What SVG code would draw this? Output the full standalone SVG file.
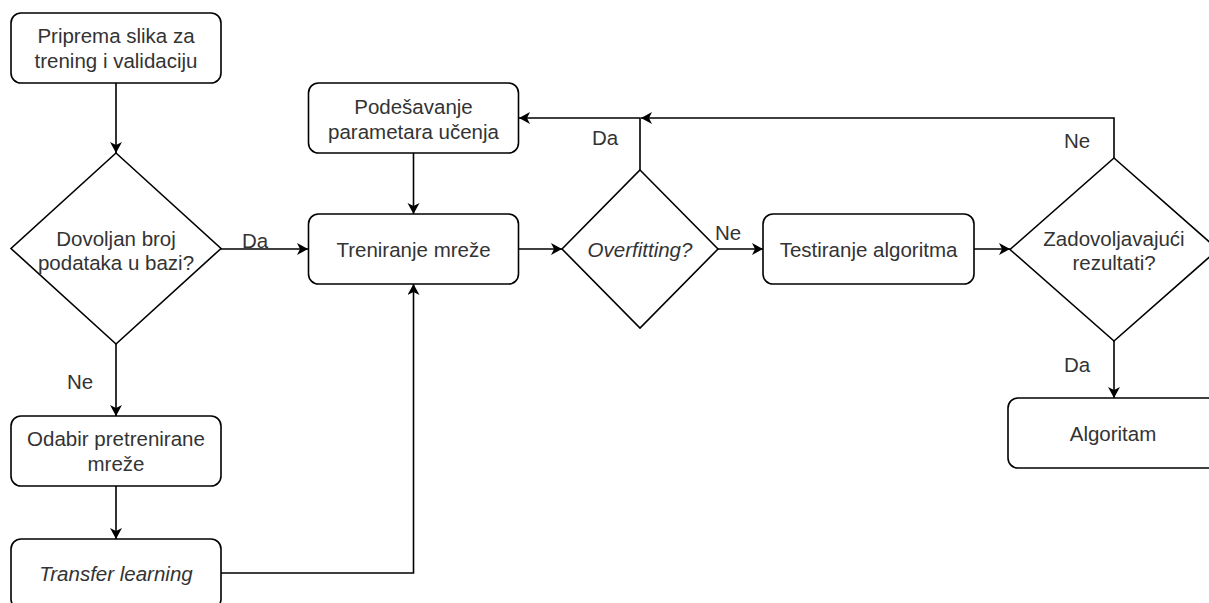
<svg xmlns="http://www.w3.org/2000/svg" width="1209" height="603" viewBox="0 0 1209 603">
<style>
.box{fill:#fff;stroke:#000;stroke-width:1.6}
.t{font-family:"Liberation Sans",Arial,sans-serif;font-size:20.5px;fill:#333;text-anchor:middle}
.i{font-style:italic}
.c{fill:none;stroke:#000;stroke-width:1.6}
</style>
<defs>
<marker id="ah" markerUnits="userSpaceOnUse" markerWidth="13" markerHeight="13" refX="11" refY="6" orient="auto">
<path d="M0,0 L11,6 L0,12 L3,6 Z" fill="#000"/>
</marker>
</defs>
<rect width="1209" height="603" fill="#fff"/>
<g id="connectors">
<path class="c" d="M116,83 V153" marker-end="url(#ah)"/>
<path class="c" d="M221,249 H308" marker-end="url(#ah)"/>
<path class="c" d="M116,344 V416" marker-end="url(#ah)"/>
<path class="c" d="M116,486 V539" marker-end="url(#ah)"/>
<path class="c" d="M221,573 H413.5 V284" marker-end="url(#ah)"/>
<path class="c" d="M413.5,153 V214" marker-end="url(#ah)"/>
<path class="c" d="M519,249 H562" marker-end="url(#ah)"/>
<path class="c" d="M640,170 V118 H519" marker-end="url(#ah)"/>
<path class="c" d="M718,249 H763" marker-end="url(#ah)"/>
<path class="c" d="M974,249 H1010" marker-end="url(#ah)"/>
<path class="c" d="M1114,158 V118 H641" marker-end="url(#ah)"/>
<path class="c" d="M1114,341 V398" marker-end="url(#ah)"/>
<text class="t" x="255" y="248">Da</text>
<text class="t" x="80" y="389">Ne</text>
<text class="t" x="605" y="145">Da</text>
<text class="t" x="728" y="240">Ne</text>
<text class="t" x="1077" y="148">Ne</text>
<text class="t" x="1077" y="372">Da</text>
</g>
<g id="n1">
<rect class="box" x="11" y="13" width="210" height="70" rx="10"/>
<text class="t" x="116" y="43">Priprema slika za</text>
<text class="t" x="116" y="68">trening i validaciju</text>
</g>
<g id="n2">
<polygon class="box" points="116,153 221,248.5 116,344 11,248.5"/>
<text class="t" x="116" y="246">Dovoljan broj</text>
<text class="t" x="116" y="270">podataka u bazi?</text>
</g>
<g id="n3">
<rect class="box" x="11" y="416" width="210" height="70" rx="10"/>
<text class="t" x="116" y="446">Odabir pretrenirane</text>
<text class="t" x="116" y="471">mreže</text>
</g>
<g id="n4">
<rect class="box" x="11" y="539" width="210" height="70" rx="10"/>
<text class="t i" x="116" y="581">Transfer learning</text>
</g>
<g id="n5">
<rect class="box" x="308.5" y="83" width="210" height="70" rx="10"/>
<text class="t" x="413.5" y="114">Podešavanje</text>
<text class="t" x="413.5" y="139">parametara učenja</text>
</g>
<g id="n6">
<rect class="box" x="308.5" y="214" width="210" height="70" rx="10"/>
<text class="t" x="413.5" y="257">Treniranje mreže</text>
</g>
<g id="n7">
<polygon class="box" points="640,170 718,249 640,328 562,249"/>
<text class="t i" x="640" y="257">Overfitting?</text>
</g>
<g id="n8">
<rect class="box" x="763" y="214" width="211" height="70" rx="10"/>
<text class="t" x="868.5" y="257">Testiranje algoritma</text>
</g>
<g id="n9">
<polygon class="box" points="1114,158 1218,249.5 1114,341 1010,249.5"/>
<text class="t" x="1114" y="246">Zadovoljavajući</text>
<text class="t" x="1114" y="270">rezultati?</text>
</g>
<g id="n10">
<rect class="box" x="1008" y="398" width="210" height="70" rx="10"/>
<text class="t" x="1113" y="441">Algoritam</text>
</g>
</svg>
